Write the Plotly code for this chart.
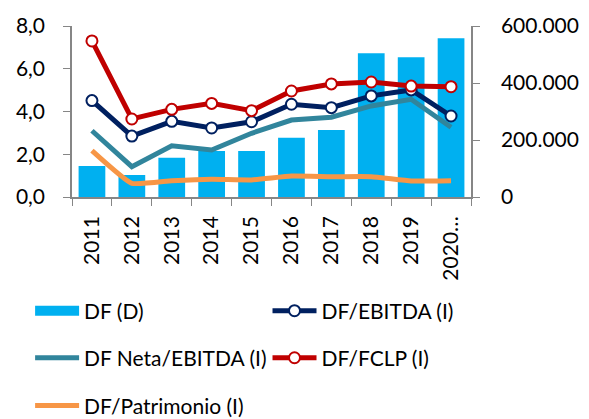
import plotly.graph_objects as go

years = ["2011", "2012", "2013", "2014", "2015", "2016", "2017", "2018", "2019", "2020…"]
df_deuda = [108800, 77200, 138000, 161400, 161400, 208000, 235000, 504000, 490000, 557000]
df_ebitda = [4.51, 2.85, 3.54, 3.23, 3.52, 4.34, 4.18, 4.73, 5.01, 3.79]
df_neta_ebitda = [3.10, 1.42, 2.40, 2.20, 2.98, 3.60, 3.73, 4.26, 4.57, 3.26]
df_fclp = [7.30, 3.65, 4.10, 4.38, 4.04, 4.96, 5.29, 5.38, 5.19, 5.16]
df_patrimonio = [2.17, 0.64, 0.76, 0.83, 0.80, 0.98, 0.95, 0.95, 0.75, 0.76]

FONT = "Lato, Open Sans, sans-serif"
AX = "#868686"
FS = 21

fig = go.Figure()
# bars on the (right-side) primary axis so the ratio lines draw above them
fig.add_trace(go.Bar(x=years, y=df_deuda, name="DF (D)", yaxis="y",
                     marker=dict(color="#00B0F0", line=dict(width=0)), width=0.67,
                     showlegend=False))
# legend proxy for the bar series (wide rectangle swatch)
fig.add_trace(go.Scatter(x=[None], y=[None], name="DF (D)", mode="lines", yaxis="y",
                         line=dict(color="#00B0F0", width=14), legend="legend"))
fig.add_trace(go.Scatter(x=years, y=df_neta_ebitda, name="DF Neta/EBITDA (I)", mode="lines",
                         yaxis="y2", line=dict(color="#31859C", width=5), legend="legend3"))
fig.add_trace(go.Scatter(x=years, y=df_patrimonio, name="DF/Patrimonio (I)", mode="lines",
                         yaxis="y2",
                         line=dict(color="#F79646", width=5, shape="spline", smoothing=0.4),
                         legend="legend5"))
fig.add_trace(go.Scatter(x=years, y=df_ebitda, name="DF/EBITDA (I)", mode="lines+markers",
                         yaxis="y2", line=dict(color="#002060", width=5),
                         marker=dict(symbol="circle", size=11, color="white",
                                     line=dict(color="#002060", width=2)),
                         legend="legend2"))
fig.add_trace(go.Scatter(x=years, y=df_fclp, name="DF/FCLP (I)", mode="lines+markers",
                         yaxis="y2", line=dict(color="#C00000", width=5),
                         marker=dict(symbol="circle", size=11, color="white",
                                     line=dict(color="#C00000", width=2)),
                         legend="legend4"))

leg_common = dict(orientation="h", xanchor="left", yanchor="middle",
                  itemwidth=44,
                  font=dict(family=FONT, size=FS, color="black"),
                  bgcolor="rgba(0,0,0,0)")
c1, c2 = -0.105, 0.49
r1, r2, r3 = -0.667, -0.942, -1.222

fig.update_layout(
    width=581, height=411,
    margin=dict(l=64, r=118, t=18, b=222, autoexpand=False),
    paper_bgcolor="white", plot_bgcolor="white",
    separators=",.",
    font=dict(family=FONT, size=FS, color="black"),
    bargap=0.33,
    showlegend=True,
    legend=dict(x=c1, y=r1, **leg_common),
    legend2=dict(x=c2, y=r1, **leg_common),
    legend3=dict(x=c1, y=r2, **leg_common),
    legend4=dict(x=c2, y=r2, **leg_common),
    legend5=dict(x=c1, y=r3, **leg_common),
    xaxis=dict(type="category", showline=True, linecolor=AX, linewidth=1.5,
               ticks="outside", tickson="boundaries", ticklen=7, tickcolor=AX,
               tickangle=-90, tickfont=dict(family=FONT, size=FS), showgrid=False,
               ticklabelstandoff=9, range=[-0.5, 9.5]),
    yaxis=dict(range=[0, 600000], tickvals=[0, 200000, 400000, 600000],
               tickformat=",.0f", side="right",
               showline=True, linecolor=AX, linewidth=1.5, ticks="outside",
               ticklen=7, tickcolor=AX, showgrid=False, zeroline=False,
               ticklabelstandoff=17, tickfont=dict(family=FONT, size=FS)),
    yaxis2=dict(range=[0, 8], tickvals=[0, 2, 4, 6, 8], tickformat=".1f",
                overlaying="y", side="left",
                showline=True, linecolor=AX, linewidth=1.5, ticks="outside",
                ticklen=7, tickcolor=AX, showgrid=False, zeroline=False,
                ticklabelstandoff=14, tickfont=dict(family=FONT, size=FS)),
)

fig.write_html("out.html")
